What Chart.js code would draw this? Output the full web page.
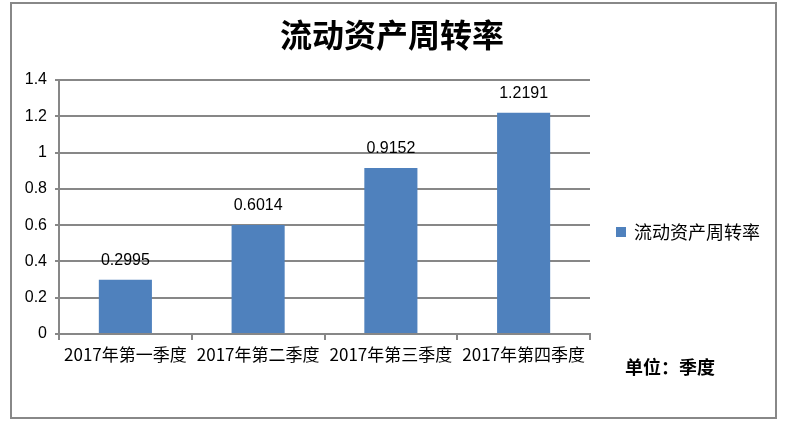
<!DOCTYPE html>
<html lang="zh">
<head>
    <meta charset="UTF-8">
    <title>流动资产周转率</title>
    <script src="https://cdn.jsdelivr.net/npm/chart.js"></script>
    <style>
        body {
            margin: 0;
            padding: 0;
            background: #fff;
        }
        canvas {
            display: block;
        }
    </style>
</head>
<body>
    <canvas id="turnoverChart" width="787" height="426"></canvas>

    <script>
        // 数据
        const quarters = ['2017年第一季度', '2017年第二季度', '2017年第三季度', '2017年第四季度'];
        const turnover = [0.2995, 0.6014, 0.9152, 1.2191];
        const chartTitle = '流动资产周转率';
        const seriesName = '流动资产周转率';
        const unitNote = '单位：季度';

        const numFont = "'Liberation Sans', 'Noto Sans CJK SC', sans-serif";
        const cjkFont = "'Noto Sans CJK SC', 'Liberation Sans', sans-serif";
        const gridGray = '#878787';
        const barBlue = '#4F81BD';

        // 数值标签
        const valueLabels = {
            id: 'valueLabels',
            afterDatasetsDraw(chart) {
                const ctx = chart.ctx;
                const meta = chart.getDatasetMeta(0);
                ctx.save();
                ctx.font = '16px ' + numFont;
                ctx.fillStyle = '#000';
                ctx.textAlign = 'center';
                ctx.textBaseline = 'alphabetic';
                meta.data.forEach((bar, i) => {
                    ctx.fillText(turnover[i].toFixed(4), bar.x, bar.y - 15);
                });
                ctx.restore();
            }
        };

        // 边框、标题、图例、单位
        const decor = {
            id: 'decor',
            afterDraw(chart) {
                const ctx = chart.ctx;
                const ds = chart.data.datasets[0];
                ctx.save();
                ctx.strokeStyle = '#888';
                ctx.lineWidth = 2;
                ctx.strokeRect(11, 3, 765, 415);

                ctx.fillStyle = '#000';
                ctx.textBaseline = 'middle';
                ctx.textAlign = 'center';
                ctx.font = 'bold 32px ' + cjkFont;
                ctx.fillText(chartTitle, 392, 35);

                ctx.fillStyle = ds.backgroundColor;
                ctx.fillRect(616, 227, 10, 10);
                ctx.fillStyle = '#000';
                ctx.textAlign = 'left';
                ctx.font = '18px ' + cjkFont;
                ctx.fillText(ds.label, 634, 232);

                ctx.font = 'bold 18px ' + cjkFont;
                ctx.fillText(unitNote, 625, 367);
                ctx.restore();
            }
        };

        const ctx = document.getElementById('turnoverChart').getContext('2d');
        const turnoverChart = new Chart(ctx, {
            type: 'bar',
            data: {
                labels: quarters,
                datasets: [{
                    label: seriesName,
                    data: turnover,
                    backgroundColor: barBlue,
                    borderWidth: 0,
                    categoryPercentage: 1,
                    barPercentage: 0.4
                }]
            },
            options: {
                responsive: false,
                animation: false,
                layout: {
                    padding: { left: 12, top: 80, right: 197, bottom: 52 }
                },
                plugins: {
                    legend: { display: false },
                    title: { display: false },
                    tooltip: { enabled: false }
                },
                scales: {
                    x: {
                        afterFit(scale) { scale.height = 40; },
                        grid: {
                            drawOnChartArea: false,
                            drawTicks: true,
                            tickLength: 6,
                            color: gridGray,
                            lineWidth: 2
                        },
                        border: { color: gridGray, width: 2 },
                        ticks: {
                            color: '#000',
                            padding: 4,
                            maxRotation: 0,
                            autoSkip: false,
                            font: { family: cjkFont, size: 17 }
                        }
                    },
                    y: {
                        min: 0,
                        max: 1.4,
                        afterFit(scale) { scale.width = 47; },
                        grid: {
                            color: gridGray,
                            lineWidth: 2,
                            tickLength: 4
                        },
                        border: { color: gridGray, width: 2 },
                        ticks: {
                            stepSize: 0.2,
                            color: '#000',
                            padding: 8,
                            font: { family: numFont, size: 16 },
                            callback: v => String(Number(v.toFixed(1)))
                        }
                    }
                }
            },
            plugins: [valueLabels, decor]
        });
    </script>
</body>
</html>
